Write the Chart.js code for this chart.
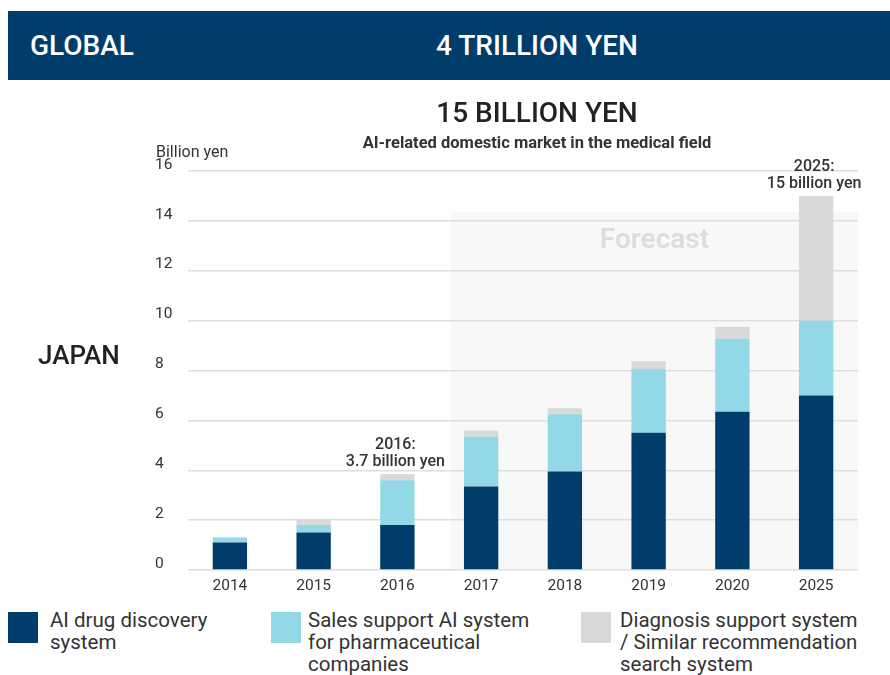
<!DOCTYPE html>
<html>
<head>
<meta charset="utf-8">
<script src="https://cdn.jsdelivr.net/npm/chart.js@4"></script>
<style>
  html, body { margin: 0; padding: 0; background: #fff; }
  body { width: 890px; height: 675px; position: relative; overflow: hidden; font-family: Roboto, "Noto Sans", sans-serif; color: #222; }
  .abs { position: absolute; white-space: nowrap; }
  #header { left: 8px; top: 11px; width: 882px; height: 69px; background: #003d6a; }
  #global { left: 30px; top: 45px; transform: translateY(-50%); color: #fff; font-size: 28px; font-weight: 500; }
  #trillion { left: 537px; top: 45px; transform: translate(-50%, -50%); color: #fff; font-size: 28px; font-weight: 500; }
  #title { left: 537px; top: 112px; transform: translate(-50%, -50%); font-size: 28px; font-weight: 500; color: #222; }
  #subtitle { left: 537px; top: 142px; transform: translate(-50%, -50%); font-size: 16.5px; font-weight: 700; color: #333; }
  #unit { left: 156px; top: 151px; transform: translateY(-50%); font-size: 16px; color: #333; }
  #japan { left: 38px; top: 355px; transform: translateY(-50%); font-size: 26px; font-weight: 500; color: #222; }
  #chartWrap { left: 0; top: 0; width: 890px; height: 600px; }
  .lg { position: absolute; top: 609px; font-size: 20.5px; line-height: 22px; color: #333; white-space: nowrap; }
  .sw { position: absolute; top: 612px; width: 30px; height: 31px; }
</style>
</head>
<body>
<div class="abs" id="header"></div>
<div class="abs" id="global">GLOBAL</div>
<div class="abs" id="trillion">4 TRILLION YEN</div>
<div class="abs" id="chartWrap"><canvas id="c" width="890" height="600"></canvas></div>
<div class="abs" id="title">15 BILLION YEN</div>
<div class="abs" id="subtitle">AI-related domestic market in the medical field</div>
<div class="abs" id="unit">Billion yen</div>
<div class="abs" id="japan">JAPAN</div>
<div id="legend"></div>
<script>
// ---- Data ----
const categories = ['2014', '2015', '2016', '2017', '2018', '2019', '2020', '2025'];
const drugDiscovery = [1.1, 1.5, 1.8, 3.35, 3.95, 5.5, 6.35, 7.0];
const salesSupport = [0.2, 0.3, 1.8, 2.0, 2.3, 2.55, 2.92, 3.0];
const diagnosisSupport = [0, 0.22, 0.25, 0.24, 0.24, 0.32, 0.48, 5.0];
const seriesNames = ['AI drug discovery\nsystem', 'Sales support AI system\nfor pharmaceutical\ncompanies', 'Diagnosis support system\n/ Similar recommendation\nsearch system'];
const yTicks = [0, 2, 4, 6, 8, 10, 12, 14, 16];
const annotationIndex = [2, 7];
const annotationText = [['2016:', '3.7 billion yen'], ['2025:', '15 billion yen']];
const forecastLabel = 'Forecast';
const forecastStartIndex = 3;
const forecastTopValue = 14.35;

const colors = ['#003d6a', '#92d8e7', '#d9d9d9'];

// legend (HTML)
const legendLeft = [8, 271, 581];
const legendTextLeft = [50, 308, 620];
const legendEl = document.getElementById('legend');
seriesNames.forEach((name, i) => {
  const sw = document.createElement('div');
  sw.className = 'sw';
  sw.style.left = legendLeft[i] + 'px';
  sw.style.background = colors[i];
  legendEl.appendChild(sw);
  const t = document.createElement('div');
  t.className = 'lg';
  t.style.left = legendTextLeft[i] + 'px';
  t.innerHTML = name.split('\n').join('<br>');
  legendEl.appendChild(t);
});

const forecastPlugin = {
  id: 'forecast',
  beforeDraw(chart) {
    const { ctx, chartArea, scales } = chart;
    const xs = scales.x, ys = scales.y;
    const step = xs.getPixelForValue(1) - xs.getPixelForValue(0);
    const x0 = xs.getPixelForValue(forecastStartIndex) - step * 0.36;
    const yTop = ys.getPixelForValue(forecastTopValue);
    ctx.save();
    ctx.fillStyle = '#f8f8f8';
    ctx.fillRect(x0, yTop, chartArea.right - x0, chartArea.bottom - yTop);
    ctx.restore();
  },
  beforeDatasetsDraw(chart) {
    const { ctx, chartArea, scales } = chart;
    const xs = scales.x, ys = scales.y;
    const step = xs.getPixelForValue(1) - xs.getPixelForValue(0);
    const x0 = xs.getPixelForValue(forecastStartIndex) - step * 0.36;
    const yTop = ys.getPixelForValue(forecastTopValue);
    ctx.save();
    ctx.fillStyle = '#dddddd';
    ctx.font = '600 28px Roboto, sans-serif';
    ctx.textAlign = 'center';
    ctx.textBaseline = 'middle';
    ctx.fillText(forecastLabel, (x0 + chartArea.right) / 2, yTop + 29);
    ctx.restore();
  },
  afterDatasetsDraw(chart) {
    const { ctx, scales } = chart;
    const xs = scales.x, ys = scales.y;
    ctx.save();
    ctx.fillStyle = '#333';
    ctx.font = '500 16px Roboto, sans-serif';
    ctx.textAlign = 'center';
    ctx.textBaseline = 'middle';
    annotationIndex.forEach((idx, k) => {
      const total = drugDiscovery[idx] + salesSupport[idx] + diagnosisSupport[idx];
      const x = xs.getPixelForValue(idx) - 2;
      const y = ys.getPixelForValue(total);
      const lines = annotationText[k];
      ctx.fillText(lines[0], x, y - 29);
      ctx.fillText(lines[1], x, y - 12);
    });
    ctx.restore();
  }
};

new Chart(document.getElementById('c'), {
  type: 'bar',
  data: {
    labels: categories,
    datasets: [
      { label: 'AI drug discovery system', data: drugDiscovery, backgroundColor: colors[0] },
      { label: 'Sales support AI system for pharmaceutical companies', data: salesSupport, backgroundColor: colors[1] },
      { label: 'Diagnosis support system / Similar recommendation search system', data: diagnosisSupport, backgroundColor: colors[2] }
    ]
  },
  options: {
    responsive: false,
    devicePixelRatio: 1,
    animation: false,
    categoryPercentage: 0.41,
    barPercentage: 1,
    layout: { padding: { left: 155, top: 171, right: 32, bottom: 0 } },
    plugins: { legend: { display: false }, tooltip: { enabled: false } },
    scales: {
      x: {
        stacked: true,
        grid: { display: false },
        border: { display: false },
        ticks: { color: '#333', font: { family: 'Roboto', size: 15.5 }, padding: -1 },
        afterFit(s) { s.height = 30; }
      },
      y: {
        stacked: true,
        min: 0,
        max: 16,
        afterBuildTicks(s) { s.ticks = yTicks.map(v => ({ value: v })); },
        grid: { color: '#dedede', lineWidth: 1.5, drawTicks: false },
        border: { display: false },
        ticks: {
          color: '#333',
          crossAlign: 'far',
          font: { family: 'Roboto', size: 15.5, lineHeight: 0.8 },
          callback: (v) => [String(v), '']
        },
        afterFit(s) { s.width = 33; }
      }
    }
  },
  plugins: [forecastPlugin]
});
</script>
</body>
</html>
